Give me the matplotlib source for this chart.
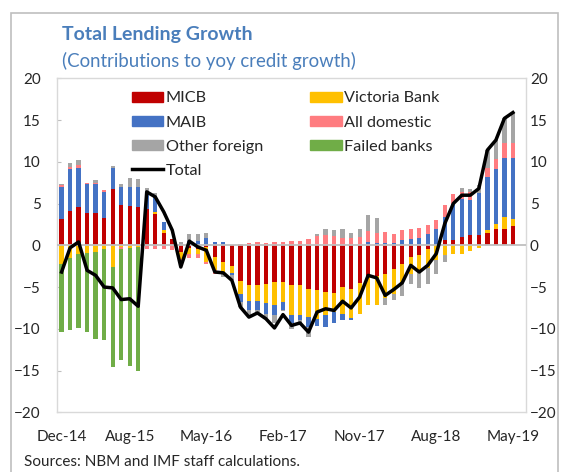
import numpy as np
import pandas as pd
import matplotlib
matplotlib.use("Agg")
import matplotlib.pyplot as plt
from matplotlib.lines import Line2D
from matplotlib.patches import Patch, Rectangle

plt.rcParams['font.family'] = ['Lato', 'DejaVu Sans']

# monthly, Dec-14 .. May-19
months = pd.date_range('2014-12-01', periods=54, freq='MS').strftime('%b-%y').tolist()

micb = [3.1, 4.1, 4.6, 3.9, 3.9, 3.3, 6.7, 4.85, 4.7, 4.56,
        4.3, 3.8, 1.5, 0.8, -0.8, -0.3, -0.5, -0.2, -1.4, -2.0,
        -2.5, -4.3, -4.8, -4.7, -4.6, -4.4, -4.4, -4.8, -4.8, -5.2,
        -5.4, -5.6, -5.7, -5.0, -5.2, -4.5, -3.8, -3.7, -3.4, -2.8,
        -2.2, -1.4, -1.2, -0.4, 0.0, 0.6, 0.6, 1.0, 1.2, 1.2,
        1.5, 2.0, 2.0, 2.3]
victoria = [-2.2, -1.5, -1.0, -0.9, -0.8, -0.5, -2.6, -0.2, -0.3, -0.2,
            0.0, 0.2, 0.3, 0.0, -0.9, -0.7, -0.6, -1.8, -1.6, -1.2,
            -0.8, -1.5, -1.9, -2.0, -2.3, -2.8, -2.4, -3.6, -3.5, -3.4,
            -3.4, -2.8, -2.3, -3.2, -3.5, -3.7, -3.4, -3.5, -2.9, -3.0,
            -2.3, -2.0, -1.8, -2.3, -1.8, -1.2, -1.1, -1.0, -0.7, -0.3,
            0.3, 0.5, 1.4, 0.9]
maib = [3.9, 5.0, 4.7, 3.4, 3.4, 3.1, 2.6, 2.15, 2.3, 2.44,
        2.0, 1.8, 1.0, 0.0, 0.0, 0.5, 0.5, 0.9, 0.4, 0.4,
        -0.3, -1.0, -1.1, -1.0, -1.3, -1.2, -0.9, -0.9, -0.7, -1.2,
        -0.9, -1.4, -1.3, -0.7, -0.3, 0.0, 0.4, 0.3, 0.3, 0.3,
        0.6, 0.7, 0.9, 1.3, 2.0, 2.8, 4.4, 4.5, 4.2, 5.1,
        6.4, 6.6, 7.1, 7.3]
domestic = [0.25, 0.3, 0.3, 0.15, 0.15, 0.2, 0.0, -0.2, 0.0, 0.0,
            -0.5, -0.5, -0.5, -0.6, -0.4, -0.5, -0.4, -0.2, -0.4, 0.0,
            0.0, 0.2, 0.3, 0.35, 0.3, 0.4, 0.4, 0.5, 0.5, 0.7,
            1.1, 1.2, 1.1, 0.9, 0.9, 1.0, 1.3, 1.2, 1.3, 1.1,
            1.2, 1.3, 1.2, 1.1, 1.0, 1.4, 1.2, 0.9, 1.0, 0.0,
            1.0, 1.2, 1.7, 1.7]
other = [0.15, 0.5, 0.6, 0.0, 0.35, 0.0, 0.25, 0.3, 1.1, 0.9,
         0.6, 0.5, 0.0, 0.0, 0.4, 0.8, 0.9, 0.6, 0.0, -0.6,
         -0.5, -0.6, -0.7, -0.3, -0.5, -0.9, -0.2, -0.7, -0.3, -1.2,
         0.3, 0.7, 0.7, 1.0, 0.6, 1.0, 1.9, 1.8, -0.9, -0.8,
         -1.6, -1.2, -2.1, -1.9, -1.6, -0.8, 0.0, 0.5, 0.3, 0.9,
         2.2, 2.3, 3.0, 3.6]
failed = [-8.2, -8.7, -8.9, -9.5, -10.4, -10.8, -12.0, -13.3, -14.2, -14.8] + [0.0] * 44
total = [-3.2, -0.3, 0.4, -3.0, -3.6, -5.0, -5.1, -6.5, -6.4, -7.3,
         6.4, 5.8, 4.0, 1.8, -2.6, 0.5, -0.2, -0.6, -3.2, -3.3,
         -4.2, -7.4, -8.6, -8.1, -8.8, -9.9, -8.3, -9.6, -9.3, -10.4,
         -8.0, -7.6, -7.8, -6.7, -7.5, -6.2, -3.6, -3.9, -6.0, -5.3,
         -4.5, -2.4, -3.2, -2.4, -1.0, 2.6, 5.0, 6.0, 6.0, 6.8,
         11.4, 12.6, 15.2, 15.9]

label_idx = [0, 8, 17, 26, 35, 44, 53]

series = [("MICB", micb, '#C00000'),
          ("Victoria Bank", victoria, '#FFC000'),
          ("MAIB", maib, '#4472C4'),
          ("All domestic", domestic, '#FF7C80'),
          ("Other foreign", other, '#A5A5A5'),
          ("Failed banks", failed, '#70AD47')]

W, H = 565, 472
fig = plt.figure(figsize=(W / 100, H / 100), dpi=100)
ax = fig.add_axes([57.3 / W, 1 - 412.3 / H, 468.4 / W, 334.0 / H])

x = np.arange(len(months))
pos = np.zeros(len(x))
neg = np.zeros(len(x))
handles = {}
for name, vals, col in series:
    v = np.array(vals)
    b = np.where(v >= 0, pos, neg)
    ax.bar(x, v, 0.5, bottom=b, color=col, zorder=2)
    handles[name] = Patch(color=col)
    pos += np.clip(v, 0, None)
    neg += np.clip(v, None, 0)

ax.axhline(0, color='#BFBFBF', lw=1.3, zorder=3)
ax.plot(x, total, color='black', lw=2.5, zorder=4, solid_joinstyle='round')
handles['Total'] = Line2D([], [], color='black', lw=2.5)

ax.set_xlim(-0.5, 54.5)
ax.set_ylim(-20, 20)
ax.set_yticks(np.arange(-20, 21, 5))
ax.set_xticks(label_idx)
ax.set_xticklabels([months[i] for i in label_idx])
for s in ax.spines.values():
    s.set_color('#D9D9D9')
    s.set_linewidth(1.0)
ax.tick_params(axis='x', length=0, pad=13, labelsize=11, colors='#262626')
ax.tick_params(axis='y', direction='in', length=3, color='#BFBFBF', pad=12,
               labelsize=11, labelcolor='#262626')

ax2 = ax.twinx()
ax2.set_ylim(-20, 20)
ax2.set_yticks(np.arange(-20, 21, 5))
ax2.tick_params(axis='y', length=0, pad=3, labelsize=11, labelcolor='#262626')
for s in ax2.spines.values():
    s.set_visible(False)

order = ["MICB", "MAIB", "Other foreign", "Total", "Victoria Bank", "All domestic", "Failed banks"]
leg = ax.legend([handles[k] for k in order], order, ncol=2, frameon=False,
                loc='upper left', bbox_to_anchor=(131.7 / W, 1 - 91.5 / H),
                bbox_transform=fig.transFigure, borderpad=0, borderaxespad=0,
                fontsize=11.7, handlelength=1.95, handleheight=0.55, handletextpad=0.15,
                columnspacing=2.87, labelspacing=0.62)
for t in leg.get_texts():
    t.set_color('#262626')

fig.text(62 / W, 1 - 40 / H, "Total Lending Growth", fontsize=14, fontweight='bold',
         color='#4A7EBB', va='baseline')
fig.text(62 / W, 1 - 66.5 / H, "(Contributions to yoy credit growth)", fontsize=13.4,
         color='#4A7EBB', va='baseline')
fig.text(24.5 / W, 1 - 462 / H, "Sources: NBM and IMF staff calculations.", fontsize=11,
         color='#262626', va='center')

fig.patches.append(Rectangle((11 / W, -0.05), 547 / W, 1.05 - 13.3 / H, transform=fig.transFigure,
                             fill=False, edgecolor='#BFBFBF', lw=1.2))

fig.savefig('out.png', dpi=100)
